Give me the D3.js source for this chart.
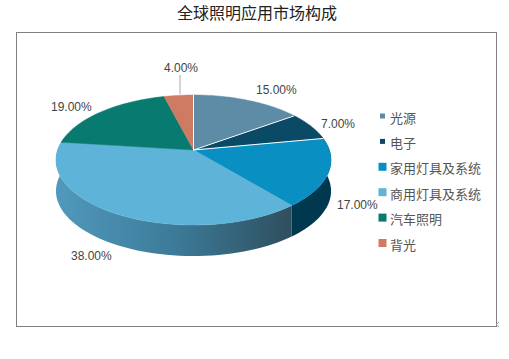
<!DOCTYPE html>
<html><head><meta charset="utf-8">
<script src="https://cdn.jsdelivr.net/npm/d3@7/dist/d3.min.js"></script>
<style>html,body{margin:0;padding:0;background:#fff}svg{display:block}</style>
</head><body><svg id="c" width="509" height="359"></svg>
<script>
const categories=["光源","电子","家用灯具及系统","商用灯具及系统","汽车照明","背光"];
const values=[15,7,17,38,19,4];
const colors=["#5e8ca6","#0b4a66","#0a8fc2","#5eb3d8","#097a70","#cf7b63"];
const labelTexts=["15.00%","7.00%","17.00%","38.00%","19.00%","4.00%"];
const title="全球照明应用市场构成";

const svg=d3.select("#c");
const font="'Liberation Sans',Arial,sans-serif", cjk="'Noto Sans CJK SC',sans-serif";
const cx=193.5,cy=150,a=135.9,b=63.46,k=0.1538,depth=31;
const project=t=>{const f=-Math.cos(t),w=1-k*f;return [cx+a*Math.sin(t)/w,cy+b*f/w];};
const arcs=d3.pie().sort(null).value(d=>d)(values);
const samples=(s,e)=>d3.range(0,61).map(i=>s+(e-s)*i/60);
const line=d3.line();

const defs=svg.append("defs");
const g1=defs.append("linearGradient").attr("id","sideA").attr("x1",0).attr("x2",1).attr("y1",0).attr("y2",0);
[[0,"#5199bc"],[.5,"#3c7b99"],[1,"#2f4f5e"]].forEach(s=>g1.append("stop").attr("offset",s[0]).attr("stop-color",s[1]));

svg.append("text").attr("x",257).attr("y",19).attr("text-anchor","middle")
  .attr("font-family",cjk).attr("font-size",16).attr("fill","#222").text(title);
svg.append("rect").attr("x",16.5).attr("y",32.5).attr("width",480).attr("height",294)
  .attr("fill","#fff").attr("stroke","#808080").attr("stroke-width",1);
svg.append("path").attr("d","M499,322L496,324.5L499,327").attr("fill","none").attr("stroke","#999");

// side walls (front half only)
const sideOf=(s,e,fill)=>{
  const top=samples(s,e).map(project);
  const pts=top.concat(top.slice().reverse().map(p=>[p[0],p[1]+depth]));
  svg.append("path").attr("d",line(pts)+"Z").attr("fill",fill);
};
const P=Math.PI;
sideOf(P/2-0.25,arcs[2].endAngle,"#00394f");
sideOf(arcs[3].startAngle,1.5*P+0.2,"url(#sideA)");

// top faces
arcs.forEach((d,i)=>{
  const pts=[[cx,cy]].concat(samples(d.startAngle,d.endAngle).map(project));
  svg.append("path").attr("d",line(pts)+"Z").attr("fill",colors[i])
    .attr("stroke",colors[i]).attr("stroke-width",.5);
});
[0,1].forEach(i=>{
  svg.append("path").attr("d",line([[cx,cy],project(arcs[i].endAngle)]))
    .attr("stroke","#fff").attr("stroke-width",1).attr("fill","none");
});
svg.append("path").attr("d",line([[cx,cy],project(arcs[0].startAngle)]))
  .attr("stroke","#fff").attr("stroke-width",1).attr("fill","none");

// data labels
const lab=[[256,94],[321,128],[337,209],[71,260],[51,111],[164,72]];
labelTexts.forEach((t,i)=>{
  svg.append("text").attr("x",lab[i][0]).attr("y",lab[i][1]).attr("font-family",font)
    .attr("font-size",12).attr("fill","#444").text(t);
});
svg.append("path").attr("d","M180,75V94").attr("stroke","#aaa").attr("fill","none");

// legend
const ly=d3.scalePoint().domain(categories).range([116,243]);
const sizes=[5,5,8,8,8,8];
categories.forEach((c,i)=>{
  const y=ly(c),s=sizes[i];
  svg.append("rect").attr("x",382.5-s/2).attr("y",y-s/2).attr("width",s).attr("height",s).attr("fill",colors[i]);
  svg.append("text").attr("x",390).attr("y",y+6.5).attr("font-family",cjk).attr("font-size",13)
    .attr("fill","#555").text(c);
});
</script></body></html>
